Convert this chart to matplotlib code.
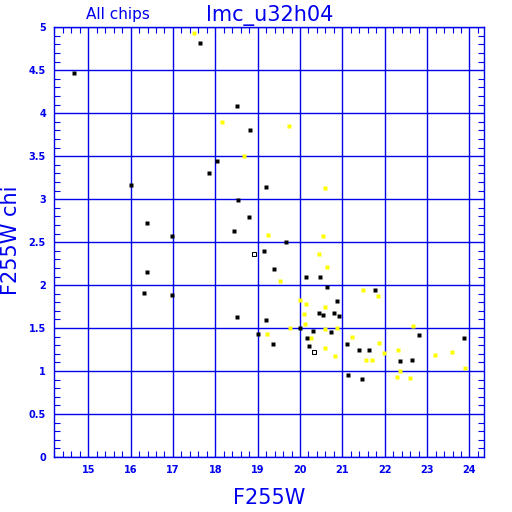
import matplotlib
matplotlib.use("Agg")
import matplotlib.pyplot as plt
from matplotlib.ticker import MultipleLocator

black_x = [17.63, 14.66, 18.51, 18.81, 18.03, 17.84, 16.01, 19.19, 18.53, 18.80, 16.38, 18.43,
           16.99, 19.66, 19.14, 16.38, 16.31, 16.99, 18.51, 19.38, 20.14, 20.47, 20.63, 20.87,
           20.44, 20.54, 20.81, 20.92, 19.19, 20.00, 20.30, 19.01, 20.73, 20.16, 19.36, 20.21,
           21.10, 21.40, 21.13, 21.78, 22.81, 23.88, 21.62, 22.35, 22.64, 21.47]
black_y = [4.82, 4.47, 4.08, 3.81, 3.44, 3.31, 3.17, 3.14, 2.99, 2.79, 2.72, 2.63,
           2.57, 2.50, 2.40, 2.15, 1.91, 1.88, 1.63, 2.19, 2.09, 2.09, 1.98, 1.82,
           1.68, 1.65, 1.67, 1.64, 1.59, 1.50, 1.47, 1.43, 1.45, 1.39, 1.32, 1.29,
           1.31, 1.24, 0.95, 1.94, 1.42, 1.38, 1.25, 1.12, 1.13, 0.91]

hollow_x = [18.92, 20.32]
hollow_y = [2.36, 1.22]

yellow_x = [17.50, 18.16, 18.68, 19.73, 19.24, 20.58, 20.54, 20.44, 20.63, 19.53, 20.00, 20.14,
            20.58, 20.10, 20.11, 19.76, 20.58, 20.87, 19.21, 21.23, 20.25, 20.59, 20.82, 21.48,
            21.85, 22.66, 21.87, 22.32, 21.99, 23.59, 23.19, 21.56, 21.69, 22.36, 23.89, 22.29,
            22.60]
yellow_y = [4.93, 3.90, 3.50, 3.85, 2.58, 3.13, 2.57, 2.36, 2.21, 2.05, 1.83, 1.78,
            1.75, 1.66, 1.55, 1.50, 1.49, 1.50, 1.43, 1.40, 1.38, 1.27, 1.17, 1.94,
            1.87, 1.52, 1.33, 1.25, 1.21, 1.22, 1.19, 1.13, 1.13, 1.00, 1.03, 0.93,
            0.92]

x_ticks = [15, 16, 17, 18, 19, 20, 21, 22, 23, 24]
y_ticks = [0, 0.5, 1, 1.5, 2, 2.5, 3, 3.5, 4, 4.5, 5]
y_ticklabels = ["0", "0.5", "1", "1.5", "2", "2.5", "3", "3.5", "4", "4.5", "5"]

BLUE = "#0000ee"

fig = plt.figure(figsize=(5.12, 5.12), dpi=100)
ax = fig.add_axes([54.3 / 512, 55 / 512, 430 / 512, 429.7 / 512])
ax.set_xlim(14.2, 24.35)
ax.set_ylim(0, 5)

ax.set_xticks(x_ticks)
ax.set_xticklabels([str(t) for t in x_ticks])
ax.set_yticks(y_ticks)
ax.set_yticklabels(y_ticklabels)
ax.xaxis.set_minor_locator(MultipleLocator(0.2))
ax.yaxis.set_minor_locator(MultipleLocator(0.1))
ax.grid(True, which="major", color=BLUE, linewidth=1.0)
ax.set_axisbelow(True)
ax.tick_params(which="both", direction="in", color=BLUE, top=True, right=True,
               labelcolor=BLUE, labelsize=7)
ax.tick_params(which="major", length=0, pad=6)
ax.tick_params(which="minor", length=4, width=0.8)
for lab in ax.get_xticklabels() + ax.get_yticklabels():
    lab.set_fontweight("bold")
for s in ax.spines.values():
    s.set_color(BLUE)
    s.set_linewidth(1.0)

ax.plot(yellow_x, yellow_y, ls="none", marker="s", ms=2.3, mfc="#ffff00", mec="none")
ax.plot(black_x, black_y, ls="none", marker="s", ms=2.3, mfc="black", mec="none")
ax.plot(hollow_x, hollow_y, ls="none", marker="s", ms=2.8, mfc="white", mec="black", mew=0.75)

ax.set_xlabel("F255W", color=BLUE, fontsize=15, labelpad=9)
fig.text(11 / 512, 1 - 240 / 512, "F255W chi", color=BLUE, fontsize=15,
         rotation=90, ha="center", va="center")
fig.text(269.5 / 512, 1 - 16 / 512, "lmc_u32h04", color=BLUE, fontsize=15,
         ha="center", va="center")
fig.text(117.5 / 512, 1 - 14.5 / 512, "All chips", color=BLUE, fontsize=11,
         ha="center", va="center")

fig.savefig("out.png", dpi=100, facecolor="white")
